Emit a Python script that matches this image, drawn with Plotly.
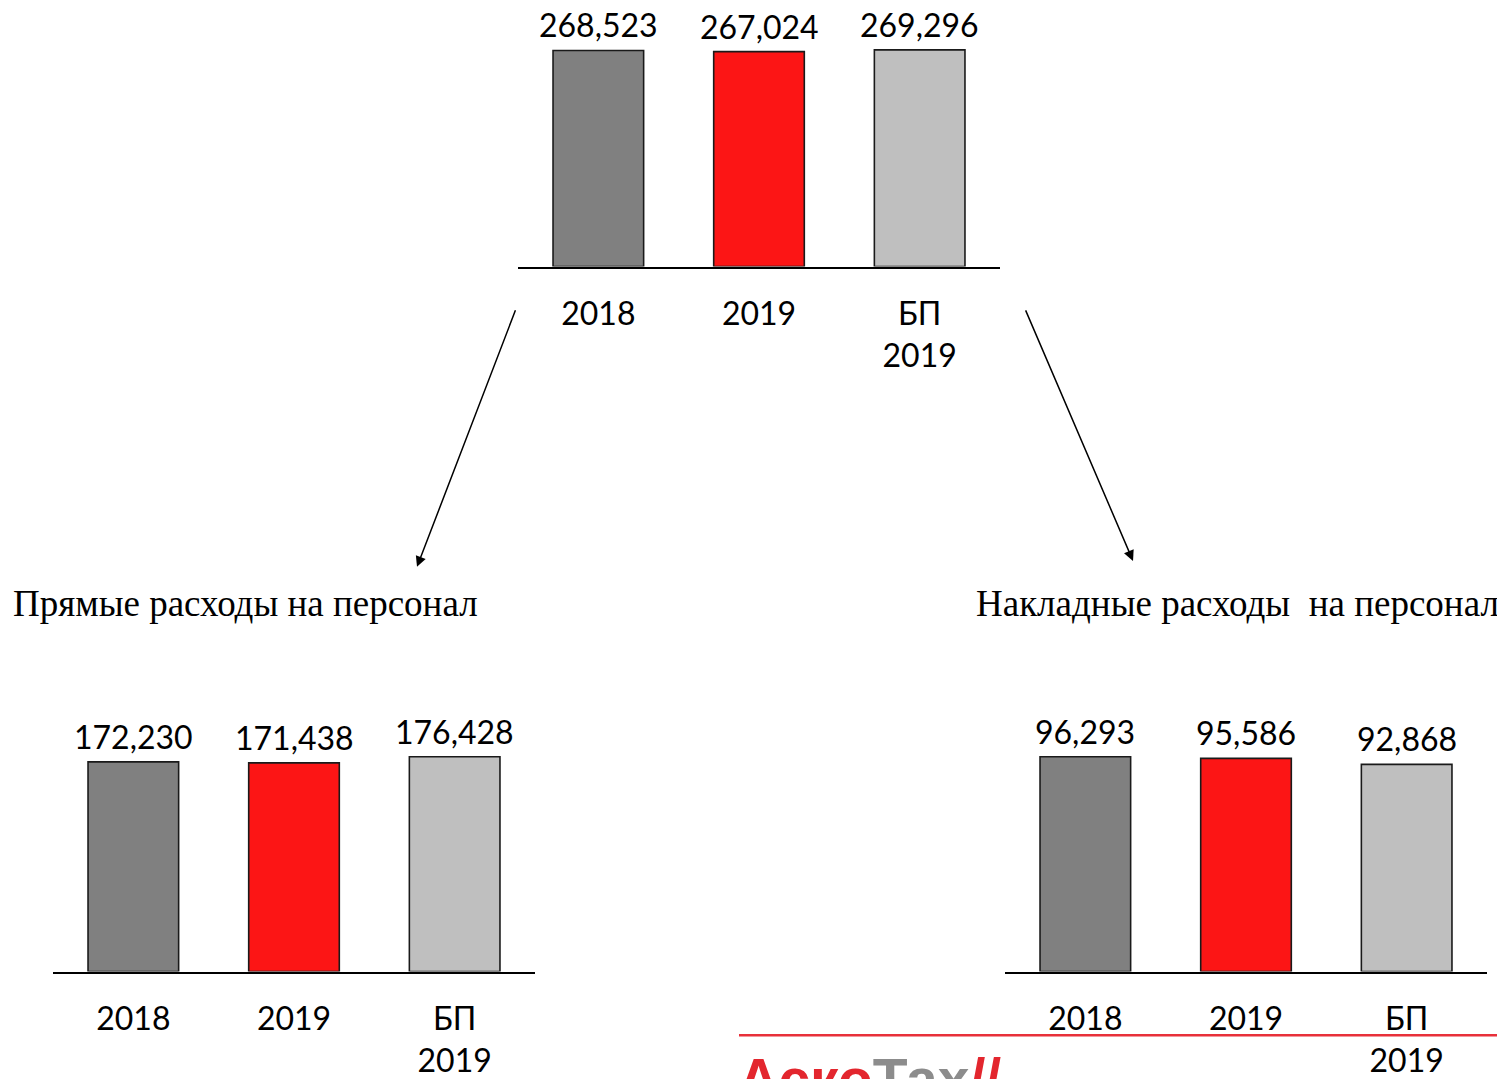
import plotly.graph_objects as go

OFF = 8  # browser default body margin
W, H = 1505 - OFF, 1079 - OFF

categories = ["2018", "2019", "БП<br>2019"]
total_values = [268523, 267024, 269296]
direct_values = [172230, 171438, 176428]
overhead_values = [96293, 95586, 92868]
bar_colors = ["#808080", "#fc1515", "#bfbfbf"]
title_direct = "Прямые расходы на персонал"
title_overhead = "Накладные расходы\u00a0 на персонал"

LABEL_FONT = "Lato, 'Open Sans', sans-serif"
TITLE_FONT = "'Liberation Serif', 'Times New Roman', serif"


def px_x(p):
    return (p - OFF) / W


def px_y(p):
    return 1 - (p - OFF) / H


fig = go.Figure()

panels = [
    # (values, x-axis id, y-axis id, x px range, y px range (bottom, top), headroom)
    (total_values, "x", "y", (518, 1000), (268, 20), 1.138),
    (direct_values, "x2", "y2", (53, 535), (977, 729), 1.148),
    (overhead_values, "x3", "y3", (1005, 1487), (977, 729), 1.148),
]

annotations = []
for vals, xa, ya, (x0, x1), (yb, yt), head in panels:
    fig.add_trace(go.Bar(
        x=categories, y=vals, xaxis=xa, yaxis=ya,
        marker=dict(color=bar_colors, line=dict(color="#1a1a1a", width=1.6)),
        showlegend=False, hoverinfo="skip",
    ))
    suffix = xa[1:]
    fig.layout["xaxis" + suffix] = dict(
        domain=[px_x(x0), px_x(x1)], anchor=ya, type="category",
        range=[-0.5, 2.5], showline=True, linecolor="black", linewidth=2,
        showgrid=False, zeroline=False, ticks="", ticklabelstandoff=18,
        tickfont=dict(family=LABEL_FONT, size=32, color="black"),
        fixedrange=True,
    )
    fig.layout["yaxis" + suffix] = dict(
        domain=[px_y(yb), px_y(yt)], anchor=xa, range=[0, max(vals) * head],
        visible=False, fixedrange=True,
    )
    for i, v in enumerate(vals):
        annotations.append(dict(
            x=i, y=v, xref=xa, yref=ya, text=f"{v:,}", showarrow=False,
            yanchor="bottom", yshift=4,
            font=dict(family=LABEL_FONT, size=32, color="black"),
        ))

# panel titles
annotations.append(dict(
    x=px_x(11), y=px_y(607), xref="paper", yref="paper", text=title_direct,
    showarrow=False, xanchor="left", yanchor="middle",
    font=dict(family=TITLE_FONT, size=37, color="black"),
))
annotations.append(dict(
    x=px_x(974), y=px_y(607), xref="paper", yref="paper", text=title_overhead,
    showarrow=False, xanchor="left", yanchor="middle",
    font=dict(family=TITLE_FONT, size=37, color="black"),
))

# arrows
for (hx, hy), (tx, ty) in [((417, 570), (516, 312)), ((1133, 564), (1025, 312))]:
    annotations.append(dict(
        x=px_x(hx), y=px_y(hy), xref="paper", yref="paper",
        ax=tx - hx, ay=ty - hy, axref="pixel", ayref="pixel",
        showarrow=True, arrowhead=2, arrowsize=1.4, arrowwidth=1.5,
        arrowcolor="black", text="",
    ))

# logo (cut off at bottom)
annotations.append(dict(
    x=px_x(736), y=px_y(1051), xref="paper", yref="paper",
    text="<b><span style='color:#e3262e'>Аско</span>"
         "<span style='color:#8c8c8c'>Тах</span>"
         "<span style='color:#e3262e'>//</span></b>",
    showarrow=False, xanchor="left", yanchor="top",
    font=dict(family="'Liberation Sans', Arial, sans-serif", size=57),
))

fig.update_layout(
    width=W, height=H,
    margin=dict(l=0, r=0, t=0, b=0),
    paper_bgcolor="white", plot_bgcolor="white",
    bargap=0.436,
    annotations=annotations,
    shapes=[dict(
        type="line", xref="paper", yref="paper",
        x0=px_x(739), x1=1, y0=px_y(1041), y1=px_y(1041),
        line=dict(color="#e8303a", width=2.5),
    )],
)

fig.write_html("out.html", config={"displayModeBar": False})
